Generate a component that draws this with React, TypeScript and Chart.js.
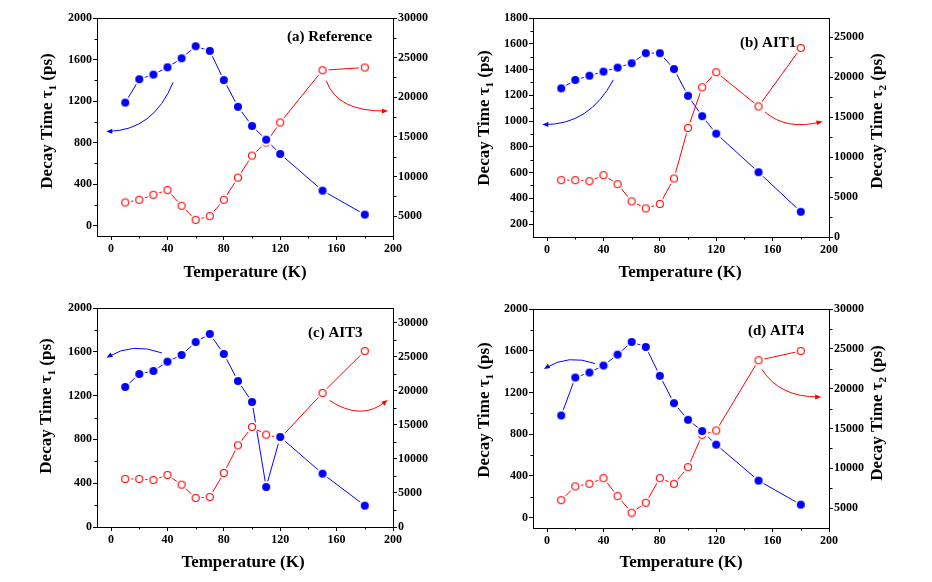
import React, { useEffect, useRef } from 'react';
import { Chart, registerables } from 'chart.js';
Chart.register(...registerables);

// ---------- data ----------
const temperatures = [10, 20, 30, 40, 50, 60, 70, 80, 90, 100, 110, 120, 150, 180];

const refTau1 = [1185, 1410, 1455, 1525, 1612, 1728, 1683, 1402, 1145, 960, 828, 690, 337, 106];
const refTau2 = [6730, 7070, 7700, 8290, 6310, 4540, 5000, 7070, 9860, 12640, 14290, 16820, 23410, 23750];

const ait1Tau1 = [1254, 1319, 1352, 1384, 1415, 1449, 1527, 1527, 1404, 1196, 1038, 902, 603, 296];
const ait1Tau2 = [7110, 7110, 6990, 7740, 6610, 4460, 3580, 4130, 7320, 13640, 18730, 20620, 16330, 23650];

const ait3Tau1 = [1279, 1397, 1425, 1510, 1571, 1689, 1763, 1580, 1333, 1142, 365, 822, 487, 195];
const ait3Tau2 = [7060, 7060, 6910, 7650, 6230, 4270, 4410, 7940, 12010, 14710, 13580, 13040, 19710, 25880];

const ait4Tau1 = [979, 1343, 1391, 1458, 1563, 1684, 1636, 1359, 1097, 938, 829, 699, 354, 124];
const ait4Tau2 = [6000, 7720, 8050, 8760, 6500, 4420, 5670, 8760, 8050, 10140, 14200, 14740, 23560, 24730];

const panelLabels = ['(a) Reference', '(b) AIT1', '(c) AIT3', '(d) AIT4'];

const xTicks = [0, 40, 80, 120, 160, 200];
const xMinor = [20, 60, 100, 140, 180];
const tau1TicksA = [0, 400, 800, 1200, 1600, 2000];
const tau1MinorA = [200, 600, 1000, 1400, 1800];
const tau1TicksB = [200, 400, 600, 800, 1000, 1200, 1400, 1600, 1800];
const tau1MinorB = [300, 500, 700, 900, 1100, 1300, 1500, 1700];
const tau2TicksA = [5000, 10000, 15000, 20000, 25000, 30000];
const tau2MinorA = [7500, 12500, 17500, 22500, 27500];
const tau2TicksB = [0, 5000, 10000, 15000, 20000, 25000];
const tau2MinorB = [2500, 7500, 12500, 17500, 22500];
const tau2TicksC = [0, 5000, 10000, 15000, 20000, 25000, 30000];
const tau2MinorC = [2500, 7500, 12500, 17500, 22500, 27500];

// curved arrows (data coordinates): start, control, end
type Pt = [number, number];
type Arrow = { pts: Pt[]; axis: 'y' | 'y2'; color: string };
const arrowsA: Arrow[] = [
  { pts: [[44, 1380], [30, 915], [-2, 908]], axis: 'y', color: '#0000ff' },
  { pts: [[152.7, 22100], [160, 18200], [195, 18260]], axis: 'y2', color: '#ff0000' },
];
const arrowsB: Arrow[] = [
  { pts: [[47, 1320], [30, 970], [-2, 973]], axis: 'y', color: '#0000ff' },
  { pts: [[154.5, 15650], [170, 13300], [194, 14400]], axis: 'y2', color: '#ff0000' },
];
const arrowsC: Arrow[] = [
  { pts: [[36, 1590], [15, 1690], [-2, 1555]], axis: 'y', color: '#0000ff' },
  { pts: [[155, 18600], [178, 15500], [195, 18500]], axis: 'y2', color: '#ff0000' },
];
const arrowsD: Arrow[] = [
  { pts: [[34, 1477], [15, 1570], [-1, 1435]], axis: 'y', color: '#0000ff' },
  { pts: [[152.5, 22400], [165, 18900], [193, 18960]], axis: 'y2', color: '#ff0000' },
];

// ---------- layout ----------
const W = 466;
const H = 291;
const FONT = '"Liberation Serif", "Times New Roman", serif';
const BLUE = '#0000ff';
const RED = '#ff0000';

type Axis = { min: number; max: number; ticks: number[]; minor: number[] };
type Panel = {
  label: string;
  left: number;
  top: number;
  area: { l: number; t: number; r: number; b: number };
  tau1: number[];
  tau2: number[];
  y1: Axis;
  y2: Axis;
  arrows: Arrow[];
  yTitle: Pt;
  y2Title?: Pt;
  xTitle: Pt;
  labelPos: Pt;
};

const panels: Panel[] = [
  {
    label: panelLabels[0], left: 0, top: 0,
    area: { l: 97, t: 18, r: 393, b: 236 },
    tau1: refTau1, tau2: refTau2,
    y1: { min: -100, max: 2000, ticks: tau1TicksA, minor: tau1MinorA },
    y2: { min: 2500, max: 30000, ticks: tau2TicksA, minor: tau2MinorA },
    arrows: arrowsA,
    yTitle: [48, 121], xTitle: [245, 273], labelPos: [287, 37],
  },
  {
    label: panelLabels[1], left: 466, top: 0,
    area: { l: 67, t: 18, r: 363, b: 237 },
    tau1: ait1Tau1, tau2: ait1Tau2,
    y1: { min: 100, max: 1800, ticks: tau1TicksB, minor: tau1MinorB },
    y2: { min: 0, max: 27400, ticks: tau2TicksB, minor: tau2MinorB },
    arrows: arrowsB,
    yTitle: [19, 118], y2Title: [412, 121], xTitle: [214, 273], labelPos: [274, 43],
  },
  {
    label: panelLabels[2], left: 0, top: 291,
    area: { l: 97, t: 17, r: 393, b: 236 },
    tau1: ait3Tau1, tau2: ait3Tau2,
    y1: { min: 0, max: 2000, ticks: tau1TicksA, minor: tau1MinorA },
    y2: { min: 0, max: 32200, ticks: tau2TicksC, minor: tau2MinorC },
    arrows: arrowsC,
    yTitle: [47, 115], xTitle: [243, 272], labelPos: [308, 42],
  },
  {
    label: panelLabels[3], left: 466, top: 291,
    area: { l: 67, t: 18, r: 363, b: 237 },
    tau1: ait4Tau1, tau2: ait4Tau2,
    y1: { min: -100, max: 2000, ticks: tau1TicksA, minor: tau1MinorA },
    y2: { min: 2500, max: 30000, ticks: tau2TicksA, minor: tau2MinorA },
    arrows: arrowsD,
    yTitle: [19, 119], y2Title: [412, 122], xTitle: [215, 272], labelPos: [282, 40],
  },
];

// ---------- marker images ----------
function makeMarker(filled: boolean, color: string): HTMLCanvasElement {
  const c = document.createElement('canvas');
  c.width = 16;
  c.height = 16;
  const ctx = c.getContext('2d')!;
  ctx.fillStyle = '#ffffff';
  ctx.beginPath();
  ctx.arc(8, 8, 6, 0, Math.PI * 2);
  ctx.fill();
  ctx.beginPath();
  if (filled) {
    ctx.fillStyle = color;
    ctx.arc(8, 8, 4, 0, Math.PI * 2);
    ctx.fill();
  } else {
    ctx.strokeStyle = color;
    ctx.lineWidth = 1.1;
    ctx.arc(8, 8, 3.5, 0, Math.PI * 2);
    ctx.stroke();
  }
  return c;
}

function drawRich(ctx: CanvasRenderingContext2D, parts: { t: string; sub?: boolean }[], x: number, y: number, rotate: boolean, size: number) {
  ctx.save();
  ctx.translate(x, y);
  if (rotate) ctx.rotate(-Math.PI / 2);
  const main = `bold ${size}px ${FONT}`;
  const sub = `bold ${Math.round(size * 0.62)}px ${FONT}`;
  let total = 0;
  const widths: number[] = [];
  for (const p of parts) {
    ctx.font = p.sub ? sub : main;
    const w = ctx.measureText(p.t).width;
    widths.push(w);
    total += w;
  }
  ctx.textBaseline = 'middle';
  ctx.textAlign = 'left';
  ctx.fillStyle = '#000';
  let cx = -total / 2;
  parts.forEach((p, i) => {
    ctx.font = p.sub ? sub : main;
    ctx.fillText(p.t, cx, p.sub ? size * 0.3 : 0);
    cx += widths[i];
  });
  ctx.restore();
}

function makeDecor(p: Panel) {
  return {
    id: 'decor' + p.label.replace(/\W/g, ''),
    afterDraw(chart: any) {
      const ctx: CanvasRenderingContext2D = chart.ctx;
      const a = chart.chartArea;
      const xs = chart.scales.x;
      const ys = chart.scales.y;
      const y2s = chart.scales.y2;
      ctx.save();
      // top frame line
      ctx.strokeStyle = '#000';
      ctx.lineWidth = 1;
      ctx.beginPath();
      const ty = Math.round(a.top) + 0.5;
      ctx.moveTo(Math.round(a.left), ty);
      ctx.lineTo(Math.round(a.right) + 1, ty);
      ctx.stroke();
      // minor ticks
      const ml = 2.5;
      ctx.beginPath();
      for (const v of xMinor) {
        const px = Math.round(xs.getPixelForValue(v)) + 0.5;
        ctx.moveTo(px, Math.round(a.bottom));
        ctx.lineTo(px, Math.round(a.bottom) + ml);
      }
      for (const v of p.y1.minor) {
        const py = Math.round(ys.getPixelForValue(v)) + 0.5;
        ctx.moveTo(Math.round(a.left), py);
        ctx.lineTo(Math.round(a.left) - ml, py);
      }
      for (const v of p.y2.minor) {
        const py = Math.round(y2s.getPixelForValue(v)) + 0.5;
        ctx.moveTo(Math.round(a.right) + 1, py);
        ctx.lineTo(Math.round(a.right) + 1 + ml, py);
      }
      ctx.stroke();
      // arrows
      for (const ar of p.arrows) {
        const sc = ar.axis === 'y' ? ys : y2s;
        const pts = ar.pts.map(([vx, vy]) => [xs.getPixelForValue(vx), sc.getPixelForValue(vy)]);
        ctx.strokeStyle = ar.color;
        ctx.fillStyle = ar.color;
        ctx.lineWidth = 1;
        ctx.beginPath();
        ctx.moveTo(pts[0][0], pts[0][1]);
        ctx.quadraticCurveTo(pts[1][0], pts[1][1], pts[2][0], pts[2][1]);
        ctx.stroke();
        const dx = pts[2][0] - pts[1][0];
        const dy = pts[2][1] - pts[1][1];
        const len = Math.hypot(dx, dy) || 1;
        const ux = dx / len, uy = dy / len;
        const hl = 6, hw = 2.5;
        const tx = pts[2][0] + ux * 2, tyy = pts[2][1] + uy * 2;
        ctx.beginPath();
        ctx.moveTo(tx, tyy);
        ctx.lineTo(tx - ux * hl - uy * hw, tyy - uy * hl + ux * hw);
        ctx.lineTo(tx - ux * hl + uy * hw, tyy - uy * hl - ux * hw);
        ctx.closePath();
        ctx.fill();
      }
      ctx.restore();
      // titles
      drawRich(ctx, [{ t: 'Decay Time \u03c4' }, { t: '1', sub: true }, { t: ' (ps)' }], p.yTitle[0], p.yTitle[1], true, 17);
      if (p.y2Title) {
        drawRich(ctx, [{ t: 'Decay Time \u03c4' }, { t: '2', sub: true }, { t: ' (ps)' }], p.y2Title[0], p.y2Title[1], true, 17);
      }
      drawRich(ctx, [{ t: 'Temperature (K)' }], p.xTitle[0], p.xTitle[1], false, 17);
      ctx.save();
      ctx.font = `bold 15px ${FONT}`;
      ctx.fillStyle = '#000';
      ctx.textAlign = 'left';
      ctx.textBaseline = 'middle';
      ctx.fillText(p.label, p.labelPos[0], p.labelPos[1]);
      ctx.restore();
    },
  };
}

function PanelChart({ p }: { p: Panel }) {
  const ref = useRef<HTMLCanvasElement>(null);
  useEffect(() => {
    if (!ref.current) return;
    const blueMarker = makeMarker(true, BLUE);
    const redMarker = makeMarker(false, RED);
    const tickFont = { family: FONT, weight: 'bold' as const, size: 12 };
    const plain = (v: any) => String(v);
    const yScale = (ax: Axis, pos: 'left' | 'right', width: number) => ({
      type: 'linear' as const,
      position: pos,
      min: ax.min,
      max: ax.max,
      afterBuildTicks: (s: any) => { s.ticks = ax.ticks.map((v) => ({ value: v })); },
      afterFit: (s: any) => { s.width = width; },
      grid: { drawOnChartArea: false, drawTicks: true, tickLength: 4, tickColor: '#000', tickWidth: 1 },
      border: { display: true, color: '#000', width: 1 },
      ticks: { color: '#000', font: tickFont, padding: 1, autoSkip: false, callback: plain },
    });
    const chart = new Chart(ref.current, {
      type: 'line',
      data: {
        datasets: [
          {
            label: 'tau1 pts', yAxisID: 'y', order: 0, showLine: false,
            data: temperatures.map((t, i) => ({ x: t, y: p.tau1[i] })),
            pointStyle: blueMarker as any, pointRadius: 4, borderColor: BLUE, backgroundColor: BLUE,
          },
          {
            label: 'tau2 pts', yAxisID: 'y2', order: 0, showLine: false,
            data: temperatures.map((t, i) => ({ x: t, y: p.tau2[i] })),
            pointStyle: redMarker as any, pointRadius: 4, borderColor: RED, backgroundColor: RED,
          },
          {
            label: 'tau1', yAxisID: 'y', order: 1,
            data: temperatures.map((t, i) => ({ x: t, y: p.tau1[i] })),
            borderColor: BLUE, borderWidth: 1, pointRadius: 0, tension: 0, fill: false,
          },
          {
            label: 'tau2', yAxisID: 'y2', order: 1,
            data: temperatures.map((t, i) => ({ x: t, y: p.tau2[i] })),
            borderColor: RED, borderWidth: 1, pointRadius: 0, tension: 0, fill: false,
          },
        ],
      },
      options: {
        animation: false,
        responsive: false,
        devicePixelRatio: 1,
        layout: { padding: { top: p.area.t, left: 0, right: 0, bottom: 0 } },
        plugins: { legend: { display: false }, tooltip: { enabled: false } },
        scales: {
          x: {
            type: 'linear',
            min: -10,
            max: 200,
            afterBuildTicks: (s: any) => { s.ticks = xTicks.map((v) => ({ value: v })); },
            afterFit: (s: any) => { s.height = H - p.area.b; },
            grid: { drawOnChartArea: false, drawTicks: true, tickLength: 4, tickColor: '#000', tickWidth: 1 },
            border: { display: true, color: '#000', width: 1 },
            ticks: { color: '#000', font: tickFont, padding: 2, maxRotation: 0, minRotation: 0, autoSkip: false, callback: plain },
          },
          y: yScale(p.y1, 'left', p.area.l),
          y2: yScale(p.y2, 'right', W - p.area.r),
        },
      } as any,
      plugins: [makeDecor(p)],
    });
    return () => chart.destroy();
  }, [p]);
  return (
    <canvas
      ref={ref}
      width={W}
      height={H}
      style={{ position: 'absolute', left: p.left, top: p.top, width: W, height: H }}
    />
  );
}

export default function App() {
  return (
    <div style={{ position: 'fixed', left: 0, top: 0, width: 932, height: 582, background: '#fff', overflow: 'hidden' }}>
      {panels.map((p) => (
        <PanelChart key={p.label} p={p} />
      ))}
    </div>
  );
}
